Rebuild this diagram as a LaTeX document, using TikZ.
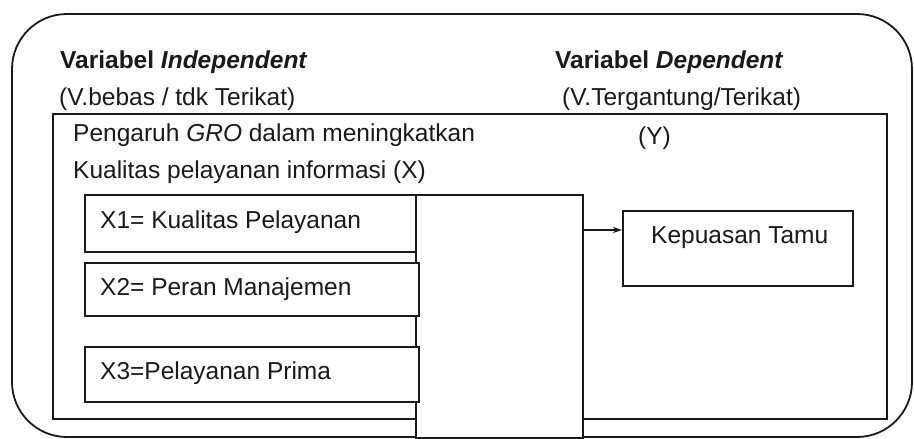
\documentclass[tikz,border=0pt]{standalone}
\usepackage{fontspec}
\setmainfont{Liberation Sans}
\usetikzlibrary{arrows.meta}
\definecolor{ink}{HTML}{1A1A1A}
\begin{document}
\begin{tikzpicture}[x=1pt,y=-1pt,
  box/.style={draw=ink,line width=2pt,fill=white,anchor=north west,inner sep=0pt},
  txt/.style={anchor=west,inner sep=0pt,text=ink,font=\fontsize{24.5}{28}\selectfont},
  btxt/.style={txt,font=\fontsize{24.5}{28}\selectfont\bfseries}]
\useasboundingbox (0,0) rectangle (914,439);
% outer rounded frame
\draw[ink,line width=1.8pt,rounded corners=55pt] (12,14) rectangle (912,437);
\node[btxt] (vi) at (60,62) {Variabel \textit{Independent}};
\node[txt] (vib) at (59,99) {(V.bebas / tdk Terikat)};
\node[btxt] (vd) at (555,62) {Variabel \textit{Dependent}};
\node[txt] (vdb) at (562,99) {(V.Tergantung/Terikat)};
% inner frame
\node[box,fill=none,minimum width=834pt,minimum height=305pt] (inner) at (52,113) {};
\node[txt] (p1) at (73,135) {Pengaruh \textit{GRO} dalam meningkatkan};
\node[txt] (p2) at (73,172) {Kualitas pelayanan informasi (X)};
\node[txt] (y) at (638,138) {(Y)};
% tall box
\node[box,minimum width=167pt,minimum height=243pt] (tall) at (415,194) {};
% X boxes
\node[box,minimum width=331pt,minimum height=57pt] (b1) at (84,194) {};
\node[txt] (t1) at (100,222) {X1= Kualitas Pelayanan};
\node[box,minimum width=334pt,minimum height=53pt] (b2) at (84,262) {};
\node[txt] (t2) at (100,289) {X2= Peran Manajemen};
\node[box,minimum width=334pt,minimum height=55pt] (b3) at (84,346) {};
\node[txt] (t3) at (100,373) {X3=Pelayanan Prima};
% Y box
\node[box,minimum width=230pt,minimum height=75pt] (kep) at (622,210) {};
\node[txt] (tk) at (651,238) {Kepuasan Tamu};
% connector
\coordinate (a1) at (582,230);
\draw[ink,line width=2pt,-{Stealth[length=9pt,width=6pt]}] (a1) -- (a1 -| kep.west);
\end{tikzpicture}
\end{document}
